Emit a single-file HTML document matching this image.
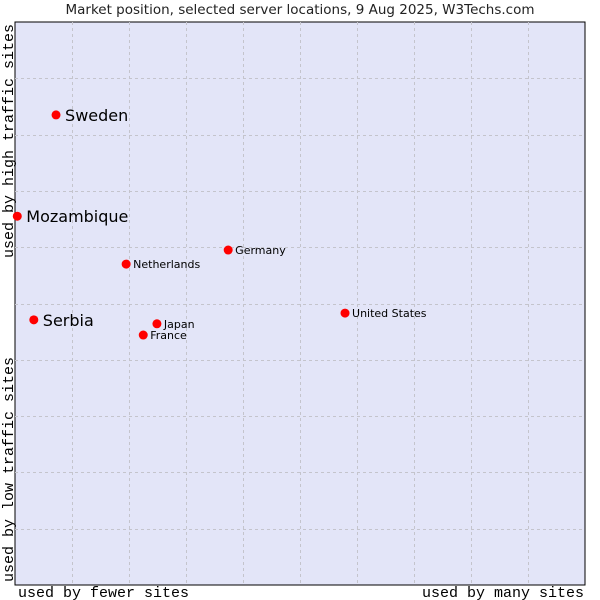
<!DOCTYPE html>
<html><head><meta charset="utf-8"><style>
body{margin:0;background:#fff;}
svg{display:block;font-family:"DejaVu Sans","Liberation Sans",sans-serif;}
</style></head><body>
<svg id="chart" width="600" height="600">
<text x="300" y="14" text-anchor="middle" font-size="13.5" fill="#222">Market position, selected server locations, 9 Aug 2025, W3Techs.com</text>
<rect x="15" y="22" width="570" height="563" fill="#e3e5f8" stroke="#000" stroke-width="1"/>
<g id="grid"></g>
<g id="points"></g>
<text x="18" y="597" font-family="Liberation Mono, monospace" font-size="15" fill="#000">used by fewer sites</text>
<text x="584" y="597" text-anchor="end" font-family="Liberation Mono, monospace" font-size="15" fill="#000">used by many sites</text>
<text transform="translate(13,582) rotate(-90)" font-family="Liberation Mono, monospace" font-size="15" fill="#000">used by low traffic sites</text>
<text transform="translate(13,24) rotate(-90)" text-anchor="end" font-family="Liberation Mono, monospace" font-size="15" fill="#000">used by high traffic sites</text>
</svg>
<script>
const names=["Sweden","Mozambique","Serbia","Netherlands","Germany","Japan","France","United States"];
const xVals=[7.2,0.4,3.3,19.5,37.4,24.9,22.5,57.9];
const yVals=[83.5,65.5,47.1,57.0,59.5,46.4,44.4,48.3];
const bigLabel=[true,true,true,false,false,false,false,false];
const L=15,T=22,W=570,H=563;
const sx=v=>L+v/100*W, sy=v=>T+H-v/100*H;
const NS="http://www.w3.org/2000/svg";
const grid=document.getElementById('grid');
for(let i=1;i<10;i++){
  const v=document.createElementNS(NS,'line');
  v.setAttribute('x1',Math.round(sx(i*10))+0.5);v.setAttribute('x2',Math.round(sx(i*10))+0.5);
  v.setAttribute('y1',T);v.setAttribute('y2',T+H);
  v.setAttribute('stroke','#c4c4cc');v.setAttribute('stroke-dasharray','3,3');
  
  
  grid.appendChild(v);
  const h=document.createElementNS(NS,'line');
  h.setAttribute('y1',Math.round(sy(i*10))+0.5);h.setAttribute('y2',Math.round(sy(i*10))+0.5);
  h.setAttribute('x1',L);h.setAttribute('x2',L+W);
  h.setAttribute('stroke','#c4c4cc');h.setAttribute('stroke-dasharray','3,3');
  
  
  grid.appendChild(h);
}
const pts=document.getElementById('points');
names.forEach((n,i)=>{
  const x=sx(xVals[i]),y=sy(yVals[i]);
  const d=document.createElementNS(NS,'circle');
  d.setAttribute('cx',x);d.setAttribute('cy',y);d.setAttribute('r',4.5);
  d.setAttribute('fill','#ff0000');
  
  
  pts.appendChild(d);
  const t=document.createElementNS(NS,'text');
  const big=bigLabel[i];
  t.setAttribute('x',x+(big?9:7));t.setAttribute('y',y+(big?6:4));
  t.setAttribute('font-size',big?16:11);t.setAttribute('fill','#000');
  t.textContent=n;
  
  
  pts.appendChild(t);
});
</script>
</body></html>
